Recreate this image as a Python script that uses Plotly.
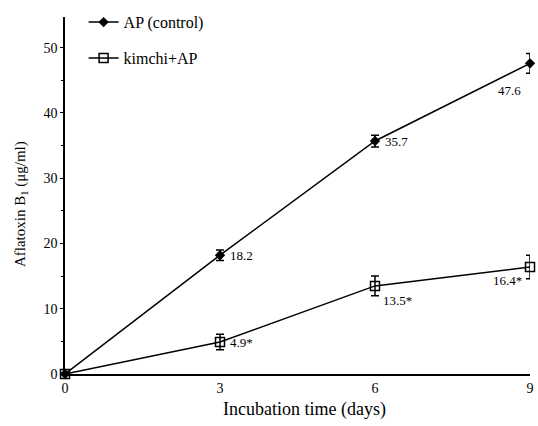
import plotly.graph_objects as go

days = [0, 3, 6, 9]
ap_control = [0, 18.2, 35.7, 47.6]
ap_err = [0, 0.8, 0.9, 1.5]
kimchi_ap = [0, 4.9, 13.5, 16.4]
kimchi_err = [0, 1.2, 1.5, 1.8]
ap_labels = ["", "18.2", "35.7", "47.6"]
kimchi_labels = ["", "4.9*", "13.5*", "16.4*"]
x_ticks = [0, 3, 6, 9]
y_ticks = [0, 10, 20, 30, 40, 50]

FONT = "Liberation Serif"

fig = go.Figure()
fig.add_trace(go.Scatter(
    x=days, y=ap_control, name="AP (control)", mode="lines+markers",
    legendgroup="a",
    line=dict(color="black", width=1.5),
    marker=dict(symbol="diamond", size=8, color="black"),
    error_y=dict(type="data", array=ap_err, color="black", thickness=1.5, width=4),
    cliponaxis=False,
))
fig.add_trace(go.Scatter(
    x=days, y=kimchi_ap, name="kimchi+AP", mode="lines+markers",
    legendgroup="b",
    line=dict(color="black", width=1.5),
    marker=dict(symbol="square-open", size=9, color="black", line=dict(width=1.5)),
    error_y=dict(type="data", array=kimchi_err, color="black", thickness=1.5, width=4),
    cliponaxis=False,
))

# value labels: (xanchor, xshift, downward shift)
ap_pos = [None, ("left", 8, 0), ("left", 8, 0), ("center", -21, 27)]
ki_pos = [None, ("left", 8, 0), ("left", 6, 15), ("right", -6, 14)]
for i in range(1, 4):
    xa, dx, dy = ap_pos[i]
    fig.add_annotation(x=days[i], y=ap_control[i], text=ap_labels[i], showarrow=False,
                       xanchor=xa, yanchor="middle", xshift=dx, yshift=-dy,
                       font=dict(family=FONT, size=13, color="black"))
    xa, dx, dy = ki_pos[i]
    fig.add_annotation(x=days[i], y=kimchi_ap[i], text=kimchi_labels[i], showarrow=False,
                       xanchor=xa, yanchor="middle", xshift=dx, yshift=-dy,
                       font=dict(family=FONT, size=13, color="black"))

# axis titles
fig.add_annotation(xref="paper", yref="paper", x=0, y=0.476, xshift=-44,
                   text="Aflatoxin B<sub>1</sub> (μg/ml)", textangle=-90, showarrow=False,
                   xanchor="center", yanchor="middle",
                   font=dict(family=FONT, size=15, color="black"))
fig.add_annotation(xref="paper", yref="paper", x=0.514, y=0, yshift=-35,
                   text="Incubation time (days)", showarrow=False,
                   xanchor="center", yanchor="middle",
                   font=dict(family=FONT, size=18, color="black"))

fig.update_layout(
    width=538, height=426,
    margin=dict(l=65, r=8, t=17, b=52, autoexpand=False),
    paper_bgcolor="white", plot_bgcolor="white",
    font=dict(family=FONT, size=14, color="black"),
    showlegend=True,
    legend=dict(x=0.04, y=1.033, xanchor="left", yanchor="top",
                traceorder="grouped", tracegroupgap=12,
                font=dict(family=FONT, size=16, color="black"),
                bgcolor="rgba(0,0,0,0)"),
    xaxis=dict(range=[0, 9], tickvals=x_ticks, ticktext=[str(v) for v in x_ticks],
               automargin=False,
               showgrid=False, zeroline=False, showline=True, linecolor="black",
               linewidth=1.5, ticks="", ticklen=0),
    yaxis=dict(range=[0, 54.7], tickvals=y_ticks, ticktext=[str(v) for v in y_ticks],
               automargin=False,
               showgrid=False, zeroline=False, showline=True, linecolor="black",
               linewidth=1.5, ticks="outside", ticklen=3, tickcolor="black",
               minor=dict(dtick=5, ticks="outside", ticklen=2, tickcolor="black")),
)

fig.write_html("out.html",
               config={"displayModeBar": False},
               post_script="document.body.style.margin='0';document.body.style.overflow='hidden';")
